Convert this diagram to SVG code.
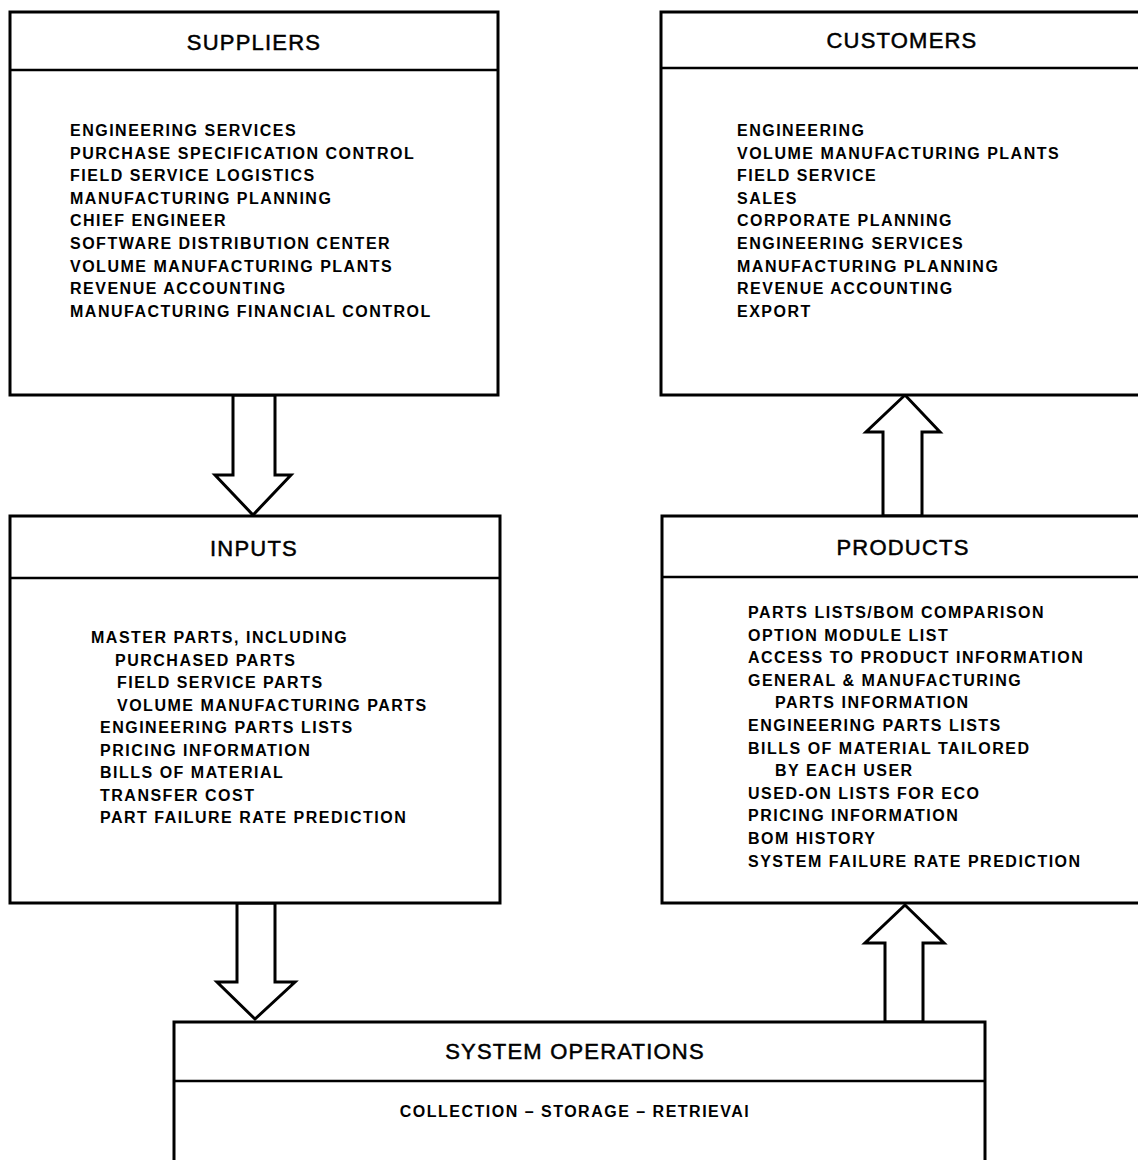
<svg xmlns="http://www.w3.org/2000/svg" width="1138" height="1160" viewBox="0 0 1138 1160">
  <style>
    .box { fill: #fff; stroke: #000; stroke-width: 3; }
    .rule { stroke: #000; stroke-width: 2.5; }
    .arrow { fill: #fff; stroke: #000; stroke-width: 3; stroke-linejoin: miter; }
    .head { font-family: "Liberation Sans", Arial, sans-serif; font-size: 22px; letter-spacing: 1.2px; text-anchor: middle; fill: #000; stroke: #000; stroke-width: 0.5px; }
    .item { font-family: "Liberation Sans", Arial, sans-serif; font-size: 16px; font-weight: bold; letter-spacing: 1.5px; fill: #000; }
    .sub { font-family: "Liberation Sans", Arial, sans-serif; font-size: 16px; font-weight: bold; letter-spacing: 1.5px; text-anchor: middle; fill: #000; }
  </style>
  <rect width="1138" height="1160" fill="#fff"/>

  <!-- connectors: hollow block arrows -->
  <g id="connectors">
    <polygon class="arrow" points="233,395 275,395 275,475 291,475 253,515 215,475 233,475"/>
    <polygon class="arrow" points="883,516 922,516 922,432 940,432 905,395 866,432 883,432"/>
    <polygon class="arrow" points="237,903 275,903 275,982 295,982 255,1019 217,982 237,982"/>
    <polygon class="arrow" points="885,1022 923,1022 923,943 944,943 905,905 865,943 885,943"/>
  </g>

  <g id="suppliers">
    <rect class="box" x="10" y="12" width="488" height="383"/>
    <line class="rule" x1="10" y1="70" x2="498" y2="70"/>
    <text class="head" x="254" y="50">SUPPLIERS</text>
    <text class="item" x="70" y="136">ENGINEERING SERVICES</text>
    <text class="item" x="70" y="158.6">PURCHASE SPECIFICATION CONTROL</text>
    <text class="item" x="70" y="181.2">FIELD SERVICE LOGISTICS</text>
    <text class="item" x="70" y="203.8">MANUFACTURING PLANNING</text>
    <text class="item" x="70" y="226.4">CHIEF ENGINEER</text>
    <text class="item" x="70" y="249">SOFTWARE DISTRIBUTION CENTER</text>
    <text class="item" x="70" y="271.6">VOLUME MANUFACTURING PLANTS</text>
    <text class="item" x="70" y="294.2">REVENUE ACCOUNTING</text>
    <text class="item" x="70" y="316.8">MANUFACTURING FINANCIAL CONTROL</text>
  </g>

  <g id="customers">
    <rect class="box" x="661" y="12" width="484" height="383"/>
    <line class="rule" x1="661" y1="68" x2="1145" y2="68"/>
    <text class="head" x="902" y="48">CUSTOMERS</text>
    <text class="item" x="737" y="136">ENGINEERING</text>
    <text class="item" x="737" y="158.6">VOLUME MANUFACTURING PLANTS</text>
    <text class="item" x="737" y="181.2">FIELD SERVICE</text>
    <text class="item" x="737" y="203.8">SALES</text>
    <text class="item" x="737" y="226.4">CORPORATE PLANNING</text>
    <text class="item" x="737" y="249">ENGINEERING SERVICES</text>
    <text class="item" x="737" y="271.6">MANUFACTURING PLANNING</text>
    <text class="item" x="737" y="294.2">REVENUE ACCOUNTING</text>
    <text class="item" x="737" y="316.8">EXPORT</text>
  </g>

  <g id="inputs">
    <rect class="box" x="10" y="516" width="490" height="387"/>
    <line class="rule" x1="10" y1="578" x2="500" y2="578"/>
    <text class="head" x="254" y="556">INPUTS</text>
    <text class="item" x="91" y="643">MASTER PARTS, INCLUDING</text>
    <text class="item" x="115" y="665.5">PURCHASED PARTS</text>
    <text class="item" x="117" y="688">FIELD SERVICE PARTS</text>
    <text class="item" x="117" y="710.5">VOLUME MANUFACTURING PARTS</text>
    <text class="item" x="100" y="733">ENGINEERING PARTS LISTS</text>
    <text class="item" x="100" y="755.5">PRICING INFORMATION</text>
    <text class="item" x="100" y="778">BILLS OF MATERIAL</text>
    <text class="item" x="100" y="800.5">TRANSFER COST</text>
    <text class="item" x="100" y="823">PART FAILURE RATE PREDICTION</text>
  </g>

  <g id="products">
    <rect class="box" x="662" y="516" width="483" height="387"/>
    <line class="rule" x1="662" y1="577" x2="1145" y2="577"/>
    <text class="head" x="903" y="555">PRODUCTS</text>
    <text class="item" x="748" y="618">PARTS LISTS/BOM COMPARISON</text>
    <text class="item" x="748" y="640.6">OPTION MODULE LIST</text>
    <text class="item" x="748" y="663.2">ACCESS TO PRODUCT INFORMATION</text>
    <text class="item" x="748" y="685.8">GENERAL &amp; MANUFACTURING</text>
    <text class="item" x="775" y="708.4">PARTS INFORMATION</text>
    <text class="item" x="748" y="731">ENGINEERING PARTS LISTS</text>
    <text class="item" x="748" y="753.6">BILLS OF MATERIAL TAILORED</text>
    <text class="item" x="775" y="776.2">BY EACH USER</text>
    <text class="item" x="748" y="798.8">USED-ON LISTS FOR ECO</text>
    <text class="item" x="748" y="821.4">PRICING INFORMATION</text>
    <text class="item" x="748" y="844">BOM HISTORY</text>
    <text class="item" x="748" y="866.6">SYSTEM FAILURE RATE PREDICTION</text>
  </g>

  <g id="system-operations">
    <rect class="box" x="174" y="1022" width="811" height="150"/>
    <line class="rule" x1="174" y1="1081" x2="985" y2="1081"/>
    <text class="head" x="575" y="1059">SYSTEM OPERATIONS</text>
    <text class="sub" x="575" y="1117">COLLECTION – STORAGE – RETRIEVAl</text>
  </g>
</svg>
